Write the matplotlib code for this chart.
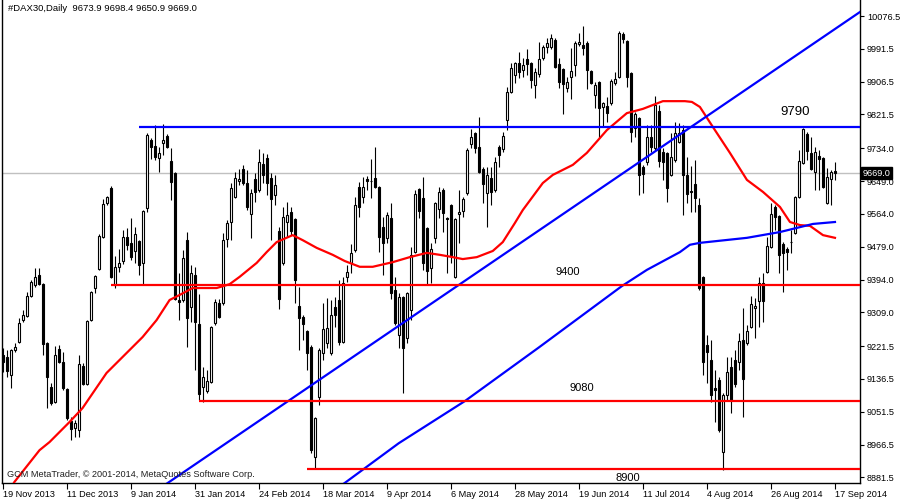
import matplotlib
matplotlib.use("Agg")
import matplotlib.pyplot as plt
import matplotlib.transforms as mtransforms
import numpy as np

# ---------------- data ----------------
opens = [9199, 9193, 9147, 9211, 9232, 9289, 9300, 9351, 9380, 9406,
         9382, 9230, 9116, 9077, 9214, 9180, 9111, 9028, 9010, 9004,
         9170, 9123, 9289, 9372, 9421, 9504, 9592, 9631, 9380, 9427,
         9442, 9504, 9489, 9468, 9494, 9437, 9579, 9755, 9740, 9709,
         9748, 9766, 9701, 9670, 9341, 9341, 9496, 9323, 9406, 9279,
         9116, 9105, 9129, 9281, 9333, 9333, 9499, 9543, 9608, 9649,
         9680, 9644, 9564, 9654, 9626, 9693, 9709, 9657, 9613, 9520,
         9437, 9543, 9569, 9551, 9326, 9297, 9261, 9219, 8934, 9090,
         9204, 9230, 9204, 9323, 9341, 9232, 9401, 9437, 9471, 9634,
         9608, 9654, 9649, 9657, 9634, 9530, 9502, 9553, 9367, 9250,
         9349, 9243, 9315, 9465, 9629, 9605, 9528, 9424, 9502, 9577,
         9626, 9553, 9587, 9401, 9564, 9572, 9618, 9745, 9774, 9737,
         9680, 9618, 9657, 9626, 9737, 9732, 9807, 9880, 9924, 9955,
         9937, 9965, 9955, 9898, 9926, 9968, 9996, 9996, 10014, 9952,
         9939, 9890, 9919, 9950, 10004, 10002, 10007, 9934, 9872, 9906,
         9841, 9844, 9851, 9903, 9919, 10030, 10012, 9929, 9787, 9812,
         9686, 9698, 9763, 9735, 9831, 9724, 9722, 9665, 9704, 9750,
         9781, 9665, 9623, 9641, 9587, 9401, 9225, 9186, 9113, 9134,
         8947, 9095, 9168, 9186, 9180, 9237, 9230, 9271, 9320, 9338,
         9385, 9414, 9478, 9582, 9559, 9486, 9473, 9491, 9515, 9608,
         9696, 9771, 9722, 9673, 9714, 9709, 9592, 9654, 9673.9]

highs = [9217, 9212, 9214, 9230, 9294, 9315, 9362, 9393, 9424, 9424,
         9385, 9232, 9126, 9222, 9225, 9206, 9113, 9038, 9030, 9199,
         9178, 9289, 9364, 9406, 9512, 9603, 9610, 9636, 9455, 9473,
         9522, 9528, 9553, 9530, 9496, 9574, 9774, 9761, 9794, 9737,
         9797, 9771, 9735, 9673, 9411, 9471, 9517, 9432, 9427, 9357,
         9168, 9160, 9274, 9344, 9344, 9515, 9548, 9644, 9673, 9680,
         9691, 9678, 9629, 9670, 9732, 9722, 9719, 9670, 9665, 9530,
         9582, 9595, 9582, 9553, 9375, 9302, 9263, 9225, 9038, 9217,
         9333, 9346, 9341, 9349, 9393, 9401, 9432, 9486, 9608, 9647,
         9660, 9662, 9706, 9737, 9636, 9556, 9569, 9592, 9401, 9359,
         9351, 9362, 9478, 9626, 9631, 9660, 9530, 9489, 9595, 9634,
         9631, 9556, 9590, 9553, 9626, 9608, 9735, 9784, 9776, 9815,
         9686, 9686, 9686, 9711, 9743, 9776, 9893, 9955, 9957, 9983,
         9968, 9991, 9957, 9942, 10009, 10002, 10020, 10030, 10020, 9968,
         9942, 9919, 9994, 10012, 10033, 10051, 10012, 9937, 9906, 9908,
         9854, 9867, 9913, 9932, 10038, 10035, 10014, 9932, 9828, 9815,
         9691, 9794, 9794, 9869, 9846, 9735, 9724, 9774, 9802, 9799,
         9794, 9711, 9688, 9704, 9605, 9403, 9250, 9237, 9160, 9142,
         9100, 9193, 9193, 9212, 9256, 9320, 9276, 9351, 9346, 9401,
         9411, 9504, 9592, 9587, 9561, 9491, 9478, 9522, 9610, 9730,
         9787, 9776, 9763, 9737, 9730, 9711, 9683, 9678, 9698.4]

lows = [9155, 9142, 9113, 9206, 9230, 9284, 9297, 9349, 9375, 9380,
        9199, 9061, 9069, 9074, 9178, 9108, 9030, 8978, 8986, 8986,
        9121, 9121, 9287, 9359, 9419, 9502, 9587, 9398, 9372, 9414,
        9434, 9471, 9445, 9437, 9406, 9380, 9569, 9706, 9704, 9673,
        9717, 9735, 9600, 9341, 9289, 9336, 9219, 9284, 9160, 9082,
        9077, 9100, 9126, 9276, 9294, 9328, 9478, 9496, 9605, 9639,
        9639, 9574, 9502, 9595, 9621, 9644, 9613, 9496, 9587, 9318,
        9432, 9504, 9509, 9333, 9212, 9237, 9160, 8945, 8906, 9069,
        9186, 9217, 9199, 9271, 9225, 9230, 9388, 9411, 9465, 9556,
        9592, 9626, 9605, 9631, 9465, 9406, 9489, 9344, 9276, 9217,
        9100, 9230, 9289, 9463, 9553, 9419, 9380, 9385, 9489, 9553,
        9517, 9411, 9437, 9398, 9489, 9556, 9613, 9735, 9722, 9670,
        9592, 9530, 9587, 9621, 9686, 9724, 9781, 9877, 9903, 9916,
        9919, 9924, 9890, 9864, 9919, 9963, 9981, 9991, 9942, 9890,
        9823, 9880, 9862, 9921, 9999, 9976, 9888, 9900, 9838, 9761,
        9789, 9802, 9846, 9898, 9916, 10007, 9893, 9750, 9763, 9613,
        9618, 9691, 9724, 9730, 9686, 9652, 9595, 9662, 9698, 9748,
        9561, 9592, 9569, 9569, 9367, 9147, 9126, 9077, 9025, 8999,
        8901, 9082, 9048, 9116, 9160, 9038, 9225, 9269, 9243, 9271,
        9284, 9411, 9476, 9522, 9411, 9362, 9419, 9463, 9512, 9605,
        9693, 9704, 9678, 9626, 9626, 9631, 9590, 9587, 9650.9]

closes = [9180, 9157, 9211, 9219, 9281, 9302, 9351, 9388, 9401, 9382,
          9227, 9142, 9074, 9199, 9180, 9113, 9035, 9007, 9022, 9175,
          9123, 9287, 9362, 9403, 9507, 9590, 9608, 9401, 9427, 9437,
          9504, 9484, 9452, 9512, 9432, 9572, 9768, 9737, 9711, 9722,
          9755, 9737, 9647, 9344, 9336, 9450, 9294, 9411, 9284, 9098,
          9142, 9131, 9271, 9336, 9297, 9496, 9540, 9631, 9657, 9654,
          9644, 9582, 9618, 9621, 9698, 9665, 9644, 9603, 9639, 9344,
          9556, 9561, 9520, 9393, 9294, 9279, 9204, 8953, 9035, 9212,
          9266, 9269, 9302, 9302, 9232, 9385, 9414, 9463, 9587, 9582,
          9634, 9649, 9648, 9634, 9504, 9489, 9561, 9359, 9281, 9349,
          9217, 9359, 9458, 9616, 9572, 9437, 9416, 9473, 9592, 9621,
          9566, 9550, 9458, 9551, 9569, 9603, 9730, 9763, 9735, 9673,
          9641, 9665, 9621, 9698, 9717, 9766, 9880, 9942, 9955, 9932,
          9950, 9952, 9911, 9932, 9965, 9996, 10007, 10020, 9945, 9906,
          9900, 9906, 9934, 10007, 10009, 9994, 9937, 9903, 9898, 9838,
          9851, 9825, 9908, 9913, 10033, 10017, 9919, 9776, 9823, 9665,
          9667, 9763, 9737, 9846, 9701, 9698, 9631, 9711, 9774, 9774,
          9665, 9616, 9621, 9605, 9372, 9180, 9206, 9095, 9108, 9004,
          9095, 9155, 9082, 9123, 9235, 9136, 9261, 9331, 9326, 9385,
          9338, 9481, 9564, 9556, 9458, 9463, 9465, 9490, 9608, 9701,
          9784, 9727, 9680, 9724, 9706, 9634, 9660, 9673, 9669.0]

date_labels = ["19 Nov 2013", "11 Dec 2013", "9 Jan 2014", "31 Jan 2014",
               "24 Feb 2014", "18 Mar 2014", "9 Apr 2014", "6 May 2014",
               "28 May 2014", "19 Jun 2014", "11 Jul 2014", "4 Aug 2014",
               "26 Aug 2014", "17 Sep 2014"]
date_bars = [0, 16, 32, 48, 64, 80, 96, 112, 128, 144, 160, 176, 192, 208]

price_ticks = [10076.5, 9991.5, 9906.5, 9821.5, 9734.0, 9649.0, 9564.0,
               9479.0, 9394.0, 9309.0, 9221.5, 9136.5, 9051.5, 8966.5, 8881.5]

# moving averages (sampled from the chart)
red_ma_x = [1.75, 3, 9.25, 11.75, 16.75, 20, 26, 35, 38.5, 41.75,
            44.25, 47.5, 53.5, 56.75, 59.25, 63.5, 66, 68.5, 72.5, 75,
            78.5, 82.5, 85.5, 89.25, 92.5, 97.5, 101.75, 106, 109.25, 112.5,
            115, 118.5, 122.5, 125, 128, 130, 135, 137.5, 142.5, 146,
            151, 156, 160, 165, 170.5, 172.25, 174.25, 177.5, 181.75, 186,
            190, 194.25, 196.75, 199.25, 201.75, 205, 208]
red_ma_y = [8849, 8870, 8952, 8973, 9025, 9061, 9152, 9245, 9289, 9341,
            9354, 9372, 9372, 9382, 9401, 9437, 9465, 9491, 9509, 9496,
            9476, 9458, 9442, 9427, 9427, 9439, 9452, 9463, 9458, 9452,
            9447, 9452, 9468, 9491, 9540, 9574, 9644, 9665, 9691, 9722,
            9781, 9825, 9836, 9856, 9856, 9854, 9841, 9789, 9722, 9652,
            9621, 9582, 9543, 9535, 9533, 9509, 9502]
blue_ma_x = [83, 85.5, 99, 115.5, 134, 154.75, 161, 169.25, 171.75, 174.25,
             186, 194.25, 202.5, 208]
blue_ma_y = [8849, 8867, 8970, 9079, 9218, 9377, 9419, 9465, 9484, 9489,
             9502, 9517, 9538, 9543]

# drawn objects
trend_x = [40, 214.25]
trend_y = [8858, 10087]
level_values = [9790, 9380, 9080, 8903]
level_start = [34, 27, 49, 76]
level_colors = ["#0000ff", "#ff0000", "#ff0000", "#ff0000"]
level_text = ["9790", "9400", "9080", "8900"]
level_text_x = [198, 141.25, 144.75, 156.25]
level_text_y = [9828, 9413, 9113, 8881]
level_text_size = [9.5, 8, 8, 8]

last_price = 9669.0
title = "#DAX30,Daily  9673.9 9698.4 9650.9 9669.0"
copyright_text = "GCM MetaTrader, \u00a9 2001-2014, MetaQuotes Software Corp."

# ---------------- drawing ----------------
plt.rcParams["font.family"] = ["Liberation Sans", "DejaVu Sans"]
fig = plt.figure(figsize=(9, 5), dpi=100)
fig.patch.set_facecolor("white")
ax = fig.add_axes([2 / 900, 17 / 500, 858 / 900, 483 / 500])
ax.set_facecolor("white")

X_MAX = 214.25
ax.set_xlim(-0.125, X_MAX)
ax.set_ylim(8867, 10118)

o = np.array(opens, dtype=float)
h = np.array(highs, dtype=float)
l = np.array(lows, dtype=float)
c = np.array(closes, dtype=float)
x = np.arange(len(o))
up = c >= o

# current price line
ax.axhline(last_price, color="#c0c0c0", lw=1.0, zorder=1)

ax.vlines(x, l, h, color="black", lw=0.8, zorder=3)
ax.bar(x, np.abs(c - o), bottom=np.minimum(o, c), width=0.5,
       color=np.where(up, "white", "black"), edgecolor="black",
       linewidth=0.8, zorder=4)

# moving averages
ax.plot(red_ma_x, red_ma_y, color="#ff0000", lw=1.6, zorder=5)
ax.plot(blue_ma_x, blue_ma_y, color="#0000ff", lw=1.6, zorder=5)

# trend line
ax.plot(trend_x, trend_y, color="#0000ff", lw=1.6, zorder=5)

# horizontal levels
for v, s, col in zip(level_values, level_start, level_colors):
    ax.hlines(v, s, X_MAX, color=col, lw=1.6, zorder=5)
for t, tx, ty, fs in zip(level_text, level_text_x, level_text_y, level_text_size):
    ax.text(tx, ty, t, fontsize=fs, ha="center", va="center", color="black",
            zorder=6, clip_on=True)

# texts
ax.text(0.007, 0.992, title, transform=ax.transAxes, fontsize=6.8,
        ha="left", va="top", color="black", zorder=7)
ax.text(0.006, 0.018, copyright_text, transform=ax.transAxes, fontsize=6.6,
        ha="left", va="center", color="#202020", zorder=7)

# axes styling
for side in ["left", "right", "bottom"]:
    ax.spines[side].set_color("black")
    ax.spines[side].set_linewidth(1.0)
ax.spines["top"].set_visible(False)

ax.yaxis.tick_right()
ax.set_yticks(price_ticks)
ax.set_yticklabels([f"{v:.1f}" for v in price_ticks])
ax.tick_params(axis="y", direction="out", length=3, width=0.8, pad=2,
               labelsize=6.6, colors="black")
ax.set_xticks(date_bars)
ax.set_xticklabels(date_labels)
ax.tick_params(axis="x", direction="out", length=4, width=0.8, pad=1,
               labelsize=6.6, colors="black")
for lbl in ax.get_xticklabels():
    lbl.set_ha("left")

# price box on the right axis
trans = mtransforms.blended_transform_factory(ax.transAxes, ax.transData)
ax.text(1.003, last_price, f"{last_price:.1f}", transform=trans, fontsize=6.6,
        ha="left", va="center", color="white", zorder=10, clip_on=False,
        bbox=dict(boxstyle="square,pad=0.15", facecolor="black",
                  edgecolor="black"))

fig.savefig("out.png", dpi=100, facecolor="white")
